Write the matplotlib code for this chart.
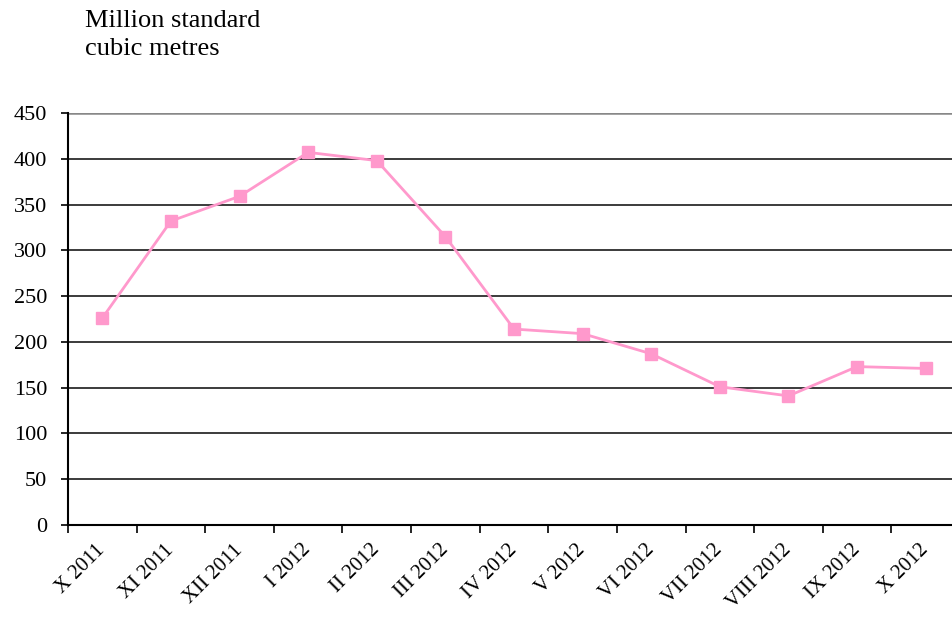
import numpy as np
import matplotlib.pyplot as plt

months = ['X 2011', 'XI 2011', 'XII 2011', 'I 2012', 'II 2012', 'III 2012', 'IV 2012',
          'V 2012', 'VI 2012', 'VII 2012', 'VIII 2012', 'IX 2012', 'X 2012']
volume = [226, 332, 359, 407, 398, 315, 214, 209, 187, 151, 141, 173, 171]
yticks = [0, 50, 100, 150, 200, 250, 300, 350, 400, 450]

plt.rcParams['font.family'] = ['Liberation Serif', 'DejaVu Serif']

fig = plt.figure(figsize=(9.52, 6.18), dpi=100)
ax = fig.add_axes([68 / 952, 93 / 618, 892 / 952, 412 / 618])

x = np.arange(len(months))
ax.plot(x, volume, color='#ff99cc', lw=2, marker='s', ms=9, mec='#ff99cc', mfc='#ff99cc', zorder=3)

ax.set_xlim(-0.5, len(months) - 0.5)
ax.set_ylim(0, 450)
ax.set_yticks(yticks)
ax.tick_params(axis='y', labelsize=16, length=5, width=1.2, direction='out', pad=10)
ax.yaxis.grid(True, color='#1a1a1a', lw=1.2)
ax.set_axisbelow(True)

ax.set_xticks(x)
ax.set_xticklabels(months, rotation=45, ha='right', va='center', rotation_mode='anchor', fontsize=15)
ax.set_xticks(np.arange(len(months) + 1) - 0.5, minor=True)
ax.tick_params(axis='x', which='major', length=0, pad=16)
ax.tick_params(axis='x', which='minor', length=6, width=1.2, direction='out')

for s in ['top', 'right']:
    ax.spines[s].set_visible(False)
ax.spines['left'].set_linewidth(1.5)
ax.spines['bottom'].set_linewidth(1.5)
ax.axhline(450, color='#888888', lw=1.8)

fig.text(85 / 952, 1 - 10 / 618, 'Million standard\ncubic metres', fontsize=19,
         va='top', ha='left', linespacing=1.35)

fig.savefig('out.png', dpi=100)
